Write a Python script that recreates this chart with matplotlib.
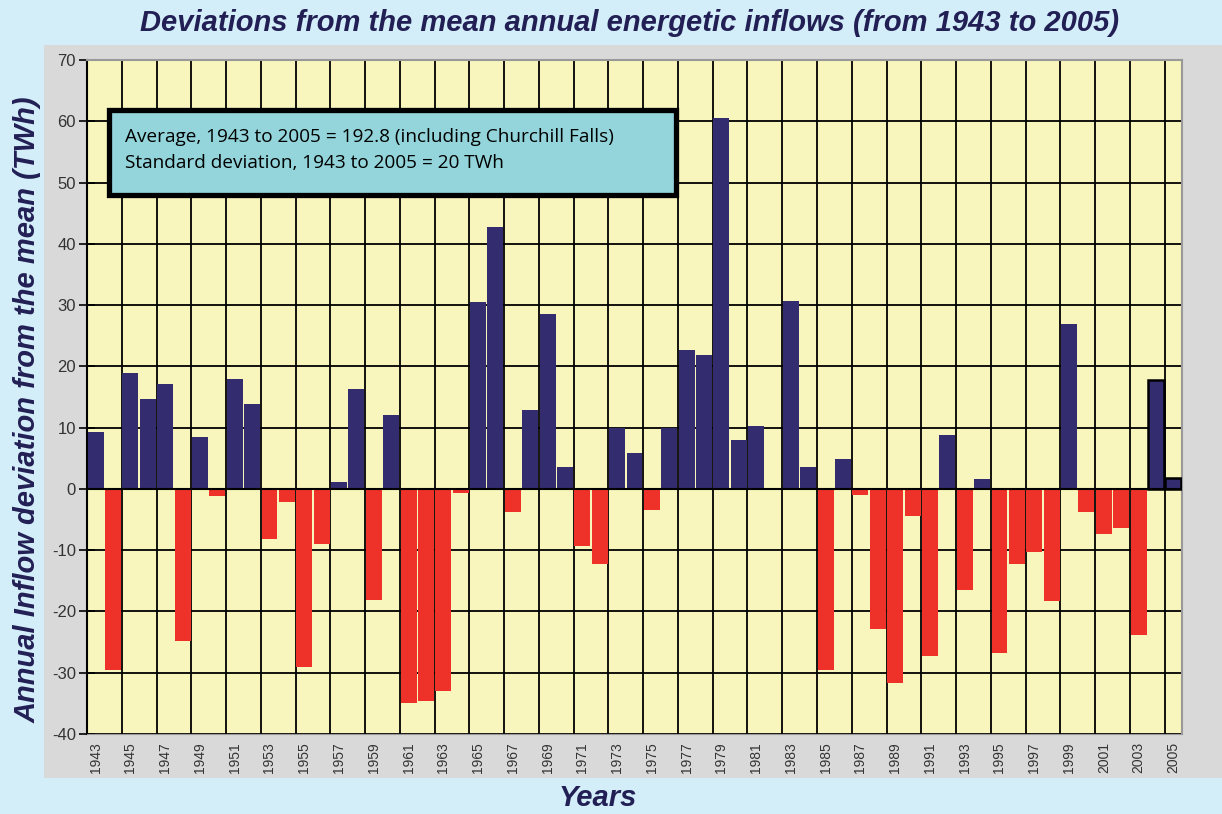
import numpy as np
import matplotlib
matplotlib.use('Agg')
import matplotlib.pyplot as plt
from matplotlib.patches import Rectangle

# annual inflow deviation from the mean, TWh
years = list(range(1943, 2006))
deviation = [
    9.3, -29.5, 18.9, 14.6, 17.1, -24.8, 8.5, -1.2, 17.9, 13.8,
    -8.2, -2.1, -29.0, -9.0, 1.1, 16.3, -18.1, 12.0, -34.9, -34.6,
    -33.0, -0.7, 30.5, 42.7, -3.7, 12.9, 28.5, 3.5, -9.3, -12.2,
    10.0, 5.8, -3.4, 9.9, 22.6, 21.9, 60.5, 8.0, 10.3, 0.0,
    30.6, 3.5, -29.5, 4.8, -1.0, -22.9, -31.7, -4.5, -27.2, 8.8,
    -16.5, 1.6, -26.7, -12.2, -10.3, -18.3, 26.9, -3.7, -7.4, -6.3,
    -23.9, 17.8, 1.7,
]
outlined_years = [2004, 2005]
tick_years = years[::2]
y_ticks = list(range(-40, 80, 10))

title = 'Deviations from the mean annual energetic inflows (from 1943 to 2005)'
note_lines = ['Average, 1943 to 2005 = 192.8 (including Churchill Falls)',
              'Standard deviation, 1943 to 2005 = 20 TWh']

navy = '#332c6e'
red = '#ee3229'
text_navy = '#221f55'

W, H = 1222, 814
fig = plt.figure(figsize=(W / 100, H / 100), dpi=100, facecolor='#d3eef9')

# grey panel behind the plot
fig.patches.append(Rectangle((44 / W, 1 - 778 / H), 1, (778 - 45) / H,
                             transform=fig.transFigure, facecolor='#d9d9d9',
                             edgecolor='none', zorder=-5))

ax = fig.add_axes([87 / W, 1 - 734 / H, (1182 - 87) / W, (734 - 60) / H])
ax.set_facecolor('#f8f5bd')

colors = [navy if v >= 0 else red for v in deviation]
bars = ax.bar(years, deviation, width=0.92, color=colors, zorder=3)
for b, yr in zip(bars, years):
    if yr in outlined_years:
        b.set_edgecolor('black')
        b.set_linewidth(1.8)

ax.set_xlim(years[0] - 0.5, years[-1] + 0.5)
ax.set_ylim(-40, 70)

# grid: horizontal every 10, vertical every two years
for yv in y_ticks:
    ax.axhline(yv, color='black', lw=1.3, zorder=1)
for xv in np.arange(years[0] + 1.5, years[-1], 2):
    ax.axvline(xv, color='black', lw=1.3, zorder=1)
ax.axhline(0, color='black', lw=1.5, zorder=4)

ax.set_yticks(y_ticks)
ax.set_yticklabels([str(t) for t in y_ticks], fontsize=12,
                   family='Liberation Sans', color='#333333')
ax.tick_params(axis='y', direction='inout', length=12, width=1.2, pad=2)
ax.set_xticks(tick_years)
ax.set_xticklabels([str(t) for t in tick_years], rotation=90, fontsize=10,
                   family='Liberation Sans', color='#333333')
ax.tick_params(axis='x', length=0, pad=6)

for s in ['top', 'right']:
    ax.spines[s].set_color('#999999')
    ax.spines[s].set_linewidth(1.5)
ax.spines['left'].set_color('black')
ax.spines['left'].set_linewidth(1.5)
ax.spines['bottom'].set_color('#999999')

fig.text(630 / W, 1 - 23 / H, title, ha='center', va='center', fontsize=21,
         fontweight='bold', fontstyle='italic', family='Liberation Sans',
         color=text_navy)
fig.text(28 / W, 1 - 410 / H, 'Annual Inflow deviation from the mean (TWh)',
         rotation=90, ha='center', va='center', fontsize=21,
         fontweight='bold', fontstyle='italic', family='Liberation Sans',
         color=text_navy)
fig.text(598 / W, 1 - 798 / H, 'Years', ha='center', va='center',
         fontsize=21, fontweight='bold', fontstyle='italic',
         family='Liberation Sans', color=text_navy)

# note box
fig.patches.append(Rectangle((109 / W, 1 - 195 / H), (676 - 109) / W,
                             (195 - 110) / H, transform=fig.transFigure,
                             facecolor='#93d5db', edgecolor='black',
                             linewidth=3.8, zorder=5))
fig.text(125 / W, 1 - 137 / H, note_lines[0], ha='left', va='center',
         fontsize=13.7, family='Open Sans', color='black', zorder=6)
fig.text(125 / W, 1 - 163 / H, note_lines[1], ha='left', va='center',
         fontsize=13.7, family='Open Sans', color='black', zorder=6)

fig.savefig('out.png', dpi=100, facecolor=fig.get_facecolor())
